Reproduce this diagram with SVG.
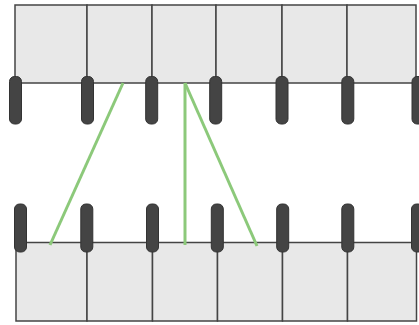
<svg xmlns="http://www.w3.org/2000/svg" width="419" height="325" viewBox="0 0 419 325">
<style>
.cell{fill:#e8e8e8;stroke:#444;stroke-width:1.5}
.peg{fill:#444;stroke:#333;stroke-width:1}
.link{stroke:#8cc97a;stroke-width:3;fill:none}
</style>
<g id="top-row">
<rect class="cell" x="15" y="5" width="72" height="78"/>
<rect class="cell" x="87" y="5" width="65" height="78"/>
<rect class="cell" x="152" y="5" width="64" height="78"/>
<rect class="cell" x="216" y="5" width="66" height="78"/>
<rect class="cell" x="282" y="5" width="65" height="78"/>
<rect class="cell" x="347" y="5" width="69" height="78"/>
</g>
<g id="bottom-row">
<rect class="cell" x="16" y="242.5" width="71" height="78.5"/>
<rect class="cell" x="87" y="242.5" width="65.5" height="78.5"/>
<rect class="cell" x="152.5" y="242.5" width="65" height="78.5"/>
<rect class="cell" x="217.5" y="242.5" width="65" height="78.5"/>
<rect class="cell" x="282.5" y="242.5" width="65" height="78.5"/>
<rect class="cell" x="347.5" y="242.5" width="69" height="78.5"/>
</g>
<g id="connectors">
<line class="link" x1="123" y1="83" x2="50" y2="245"/>
<line class="link" x1="185" y1="83" x2="185" y2="245"/>
<line class="link" x1="185" y1="83" x2="257" y2="246"/>
</g>
<g id="top-pegs">
<rect class="peg" x="9.5" y="76.5" width="12" height="47.5" rx="5"/>
<rect class="peg" x="81.5" y="76.5" width="12" height="47.5" rx="5"/>
<rect class="peg" x="145.7" y="76.5" width="12" height="47.5" rx="5"/>
<rect class="peg" x="209.7" y="76.5" width="12" height="47.5" rx="5"/>
<rect class="peg" x="276" y="76.5" width="12" height="47.5" rx="5"/>
<rect class="peg" x="341.8" y="76.5" width="12" height="47.5" rx="5"/>
<rect class="peg" x="412" y="76.5" width="12" height="47.5" rx="5"/>
</g>
<g id="bottom-pegs">
<rect class="peg" x="14.5" y="204" width="12" height="48" rx="5"/>
<rect class="peg" x="80.8" y="204" width="12" height="48" rx="5"/>
<rect class="peg" x="146.5" y="204" width="12" height="48" rx="5"/>
<rect class="peg" x="211.3" y="204" width="12" height="48" rx="5"/>
<rect class="peg" x="276.7" y="204" width="12" height="48" rx="5"/>
<rect class="peg" x="341.8" y="204" width="12" height="48" rx="5"/>
<rect class="peg" x="411.5" y="204" width="12" height="48" rx="5"/>
</g>
</svg>
